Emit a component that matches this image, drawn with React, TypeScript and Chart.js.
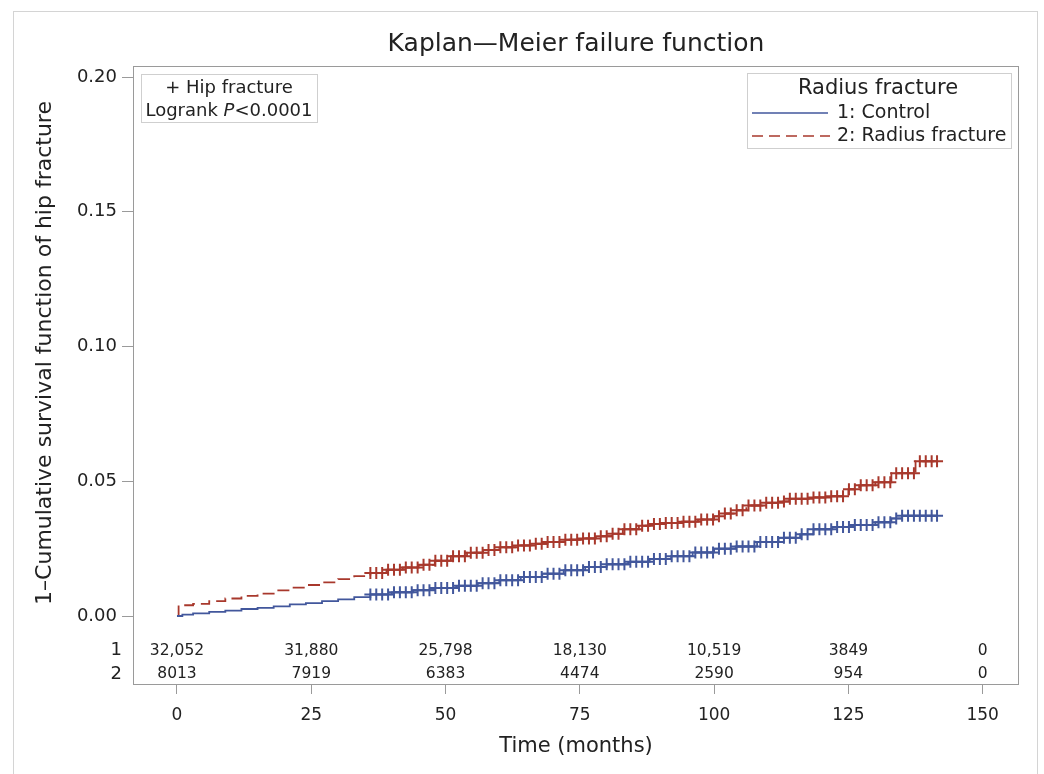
import React, { useEffect, useRef } from "react";
import { Chart, registerables } from "chart.js";

Chart.register(...registerables);

// Kaplan-Meier failure estimates (1 - S(t))
const controlTimes = [0, 1, 3, 6, 9, 12, 15, 18, 21, 24, 27, 30, 33, 36, 40, 44, 48, 52, 56, 60, 64, 68, 72, 76, 80, 84, 88, 92, 96, 100, 104, 108, 112, 116, 118.5, 122, 126, 130, 133, 135];
const controlValues = [0, 0.0005, 0.001, 0.0015, 0.002, 0.0026, 0.003, 0.0036, 0.0043, 0.0048, 0.0055, 0.0062, 0.007, 0.008, 0.0088, 0.0096, 0.0104, 0.0112, 0.0122, 0.0133, 0.0145, 0.0157, 0.017, 0.0182, 0.0192, 0.0201, 0.0212, 0.0222, 0.0236, 0.025, 0.0258, 0.0275, 0.029, 0.0303, 0.0322, 0.033, 0.0338, 0.0348, 0.0362, 0.0372];

const fractureTimes = [0, 0.3, 3, 6, 9, 12, 15, 18, 21, 24, 27, 30, 33, 36, 39, 42, 45, 48, 51, 54, 57, 60, 63, 66, 69, 72, 75, 78, 81, 83, 86, 88, 91, 94, 97, 100, 102, 104, 106, 109, 112, 114, 118, 121, 125, 127, 130, 133, 137.5];
const fractureValues = [0, 0.004, 0.0045, 0.0055, 0.0065, 0.0075, 0.0083, 0.0095, 0.0105, 0.0115, 0.0125, 0.0137, 0.0148, 0.016, 0.0172, 0.018, 0.019, 0.0205, 0.0222, 0.0235, 0.0245, 0.0255, 0.0262, 0.0268, 0.0275, 0.0283, 0.0288, 0.0296, 0.0305, 0.0322, 0.0335, 0.0341, 0.0345, 0.035, 0.0358, 0.037, 0.038, 0.0392, 0.041, 0.042, 0.0425, 0.0435, 0.044, 0.0444, 0.047, 0.0485, 0.0496, 0.053, 0.0574];

// censoring times (the "+" marks)
const censorTimes = [36.0, 37.1, 38.2, 39.3, 40.4, 41.5, 42.6, 43.7, 44.8, 45.9, 47.0, 48.1, 49.2, 50.3, 51.4, 52.5, 53.6, 54.7, 55.8, 56.9, 58.0, 59.1, 60.2, 61.3, 62.4, 63.5, 64.6, 65.7, 66.8, 67.9, 69.0, 70.1, 71.2, 72.3, 73.4, 74.5, 75.6, 76.7, 77.8, 78.9, 80.0, 81.1, 82.2, 83.3, 84.4, 85.5, 86.6, 87.7, 88.8, 89.9, 91.0, 92.1, 93.2, 94.3, 95.4, 96.5, 97.6, 98.7, 99.8, 100.9, 102.0, 103.1, 104.2, 105.3, 106.4, 107.5, 108.6, 109.7, 110.8, 111.9, 113.0, 114.1, 115.2, 116.3, 117.4, 118.5, 119.6, 120.7, 121.8, 122.9, 124.0, 125.1, 126.2, 127.3, 128.4, 129.5, 130.6, 131.7, 132.8, 133.9, 135.0, 136.1, 137.2, 138.3, 139.4, 140.5, 141.5];

// number at risk
const riskTimes = [0, 25, 50, 75, 100, 125, 150];
const riskControl = ["32,052", "31,880", "25,798", "18,130", "10,519", "3849", "0"];
const riskFracture = ["8013", "7919", "6383", "4474", "2590", "954", "0"];

const xTicks = [0, 25, 50, 75, 100, 125, 150];
const yTicks = [0, 0.05, 0.1, 0.15, 0.2];

const BLUE = "#42579c";
const RED = "#a8382c";
const FONT = "'DejaVu Sans', 'Liberation Sans', sans-serif";

function kmAt(times: number[], values: number[], t: number): number {
  let v = values[0];
  for (let i = 0; i < times.length; i++) {
    if (times[i] <= t) v = values[i];
  }
  return v;
}

function stepData(times: number[], values: number[]) {
  const pts = times.map((t, i) => ({ x: t, y: values[i] }));
  const lastT = censorTimes[censorTimes.length - 1];
  pts.push({ x: lastT, y: values[values.length - 1] });
  return pts;
}

const overlayPlugin = {
  id: "overlay",
  afterDraw(chart: any) {
    const ctx = chart.ctx as CanvasRenderingContext2D;
    const area = chart.chartArea;
    const xs = chart.scales.x;
    ctx.save();
    // outer border
    ctx.strokeStyle = "#d4d4d4";
    ctx.lineWidth = 1;
    ctx.strokeRect(13.5, 11.5, 1024, 800);
    // plot frame
    ctx.strokeStyle = "#9a9a9a";
    ctx.strokeRect(area.left + 0.5, area.top + 0.5, area.right - area.left - 1, area.bottom - area.top);

    ctx.fillStyle = "#222";
    // title
    ctx.font = `25px ${FONT}`;
    ctx.textAlign = "center";
    ctx.textBaseline = "middle";
    ctx.fillText("Kaplan\u2014Meier failure function", (area.left + area.right) / 2, 44);
    // x title
    ctx.font = `21px ${FONT}`;
    ctx.fillText("Time (months)", (area.left + area.right) / 2, 747);
    // y title
    ctx.save();
    ctx.translate(45, 353);
    ctx.rotate(-Math.PI / 2);
    ctx.font = `22px ${FONT}`;
    ctx.fillText("1\u2013Cumulative survival function of hip fracture", 0, 0);
    ctx.restore();

    // risk table
    ctx.font = `15.5px ${FONT}`;
    ctx.fillStyle = "#222";
    riskTimes.forEach((t, i) => {
      const px = xs.getPixelForValue(t);
      ctx.fillText(riskControl[i], px, 651);
      ctx.fillText(riskFracture[i], px, 674);
    });
    ctx.textAlign = "right";
    ctx.font = `18px ${FONT}`;
    ctx.fillText("1", 122, 650);
    ctx.fillText("2", 122, 674);

    // left inset box
    ctx.strokeStyle = "#cfcfcf";
    ctx.strokeRect(141.5, 74.5, 176, 48);
    ctx.textAlign = "center";
    ctx.font = `18px ${FONT}`;
    ctx.fillText("+ Hip fracture", 229, 88);
    const a = "Logrank ";
    const p = "P";
    const b = "<0.0001";
    ctx.font = `18px ${FONT}`;
    const wa = ctx.measureText(a).width;
    const wb = ctx.measureText(b).width;
    ctx.font = `italic 18px ${FONT}`;
    const wp = ctx.measureText(p).width;
    const total = wa + wp + wb;
    let sx = 229 - total / 2;
    ctx.textAlign = "left";
    ctx.font = `18px ${FONT}`;
    ctx.fillText(a, sx, 111);
    sx += wa;
    ctx.font = `italic 18px ${FONT}`;
    ctx.fillText(p, sx, 111);
    sx += wp;
    ctx.font = `18px ${FONT}`;
    ctx.fillText(b, sx, 111);

    // right legend box
    ctx.strokeStyle = "#cfcfcf";
    ctx.strokeRect(747.5, 73.5, 264, 75);
    ctx.textAlign = "center";
    ctx.font = `21px ${FONT}`;
    ctx.fillText("Radius fracture", 878, 89);
    ctx.lineWidth = 1.5;
    ctx.strokeStyle = BLUE;
    ctx.beginPath();
    ctx.moveTo(752, 113);
    ctx.lineTo(828, 113);
    ctx.stroke();
    ctx.strokeStyle = RED;
    ctx.setLineDash([11, 6]);
    ctx.beginPath();
    ctx.moveTo(752, 136);
    ctx.lineTo(830, 136);
    ctx.stroke();
    ctx.setLineDash([]);
    ctx.textAlign = "left";
    ctx.font = `19px ${FONT}`;
    ctx.fillText("1: Control", 837, 113);
    ctx.fillText("2: Radius fracture", 837, 136);
    ctx.restore();
  },
};

export default function App() {
  const ref = useRef<HTMLCanvasElement | null>(null);
  useEffect(() => {
    if (!ref.current) return;
    const chart = new Chart(ref.current, {
      type: "line",
      data: {
        datasets: [
          {
            label: "Control censored",
            data: censorTimes.map((t) => ({ x: t, y: kmAt(controlTimes, controlValues, t) })),
            showLine: false,
            pointStyle: "cross",
            pointRadius: 6,
            pointBorderWidth: 2,
            borderColor: BLUE,
            backgroundColor: BLUE,
          },
          {
            label: "Radius fracture censored",
            data: censorTimes.map((t) => ({ x: t, y: kmAt(fractureTimes, fractureValues, t) })),
            showLine: false,
            pointStyle: "cross",
            pointRadius: 6,
            pointBorderWidth: 2,
            borderColor: RED,
            backgroundColor: RED,
          },
          {
            label: "1: Control",
            data: stepData(controlTimes, controlValues),
            stepped: true,
            borderColor: BLUE,
            borderWidth: 1.8,
            pointRadius: 0,
            fill: false,
          },
          {
            label: "2: Radius fracture",
            data: stepData(fractureTimes, fractureValues),
            stepped: true,
            borderColor: RED,
            borderWidth: 1.8,
            borderDash: [12, 6],
            pointRadius: 0,
            fill: false,
          },
        ],
      },
      options: {
        animation: false,
        responsive: false,
        devicePixelRatio: 1,
        layout: { padding: { top: 66, right: 25, left: 0, bottom: 0 } },
        plugins: { legend: { display: false }, tooltip: { enabled: false }, title: { display: false } },
        scales: {
          x: {
            type: "linear",
            min: -8.19,
            max: 156.76,
            afterBuildTicks: (s: any) => {
              s.ticks = xTicks.map((v) => ({ value: v }));
            },
            afterFit: (s: any) => {
              s.height = 90;
            },
            grid: { drawOnChartArea: false, drawTicks: true, tickLength: 10, color: "#9a9a9a" },
            border: { display: false },
            ticks: { color: "#222", font: { family: FONT, size: 17 }, padding: 11, maxRotation: 0 },
          },
          y: {
            type: "linear",
            min: -0.02523,
            max: 0.2041,
            afterBuildTicks: (s: any) => {
              s.ticks = yTicks.map((v) => ({ value: v }));
            },
            afterFit: (s: any) => {
              s.width = 133;
            },
            grid: { drawOnChartArea: false, drawTicks: true, tickLength: 11, color: "#9a9a9a" },
            border: { display: false },
            ticks: {
              color: "#222",
              font: { family: FONT, size: 18 },
              padding: 5,
              callback: (v: any) => Number(v).toFixed(2),
            },
          },
        },
      },
      plugins: [overlayPlugin],
    });
    return () => chart.destroy();
  }, []);
  return (
    <div style={{ position: "fixed", left: 0, top: 0, width: 1044, height: 774, background: "#fff" }}>
      <canvas ref={ref} width={1044} height={774} style={{ display: "block" }} />
    </div>
  );
}
